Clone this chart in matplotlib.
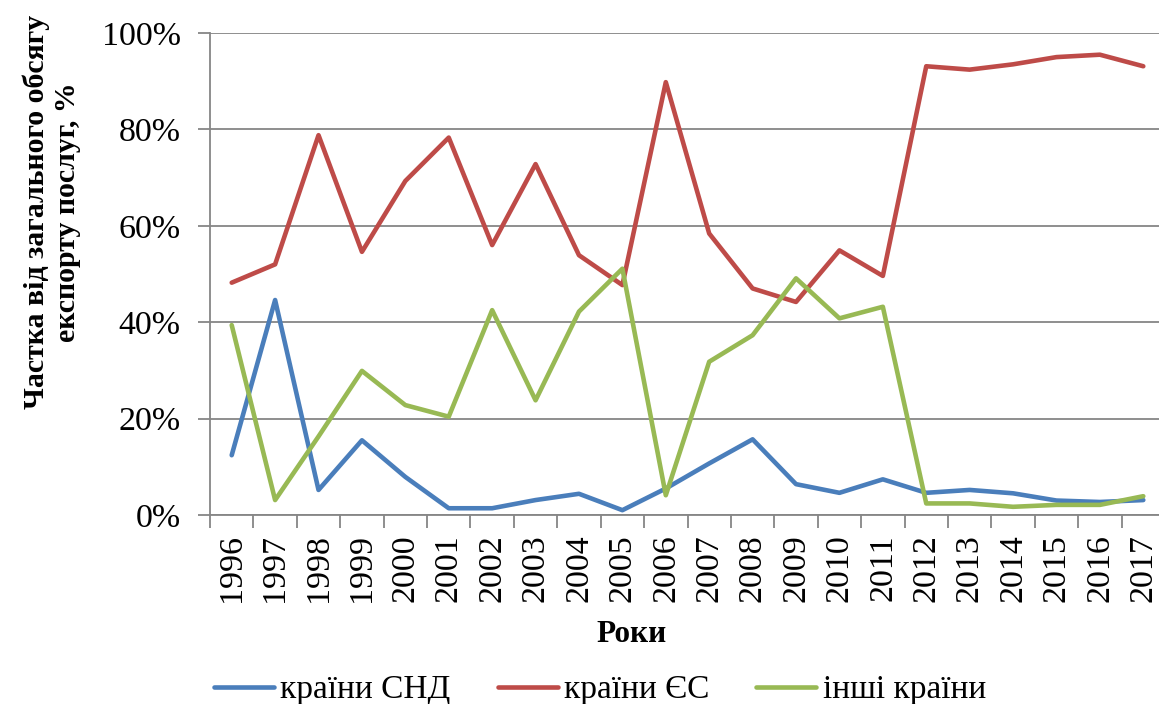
import matplotlib
matplotlib.use('Agg')
import matplotlib.pyplot as plt
from matplotlib.ticker import PercentFormatter

# Data (share of total services export, %)
years = [str(y) for y in range(1996, 2018)]
cis = [12.4, 44.6, 5.2, 15.5, 7.9, 1.4, 1.4, 3.1, 4.4, 1.0, 5.5,
       10.7, 15.7, 6.4, 4.6, 7.4, 4.6, 5.2, 4.5, 3.0, 2.7, 3.1]
eu = [48.2, 52.0, 78.8, 54.6, 69.3, 78.3, 56.0, 72.8, 53.9, 47.7, 89.8,
      58.4, 47.0, 44.2, 54.9, 49.6, 93.1, 92.4, 93.5, 95.0, 95.5, 93.1]
other = [39.4, 3.1, 16.3, 29.9, 22.8, 20.4, 42.5, 23.8, 42.2, 51.1, 4.1,
         31.8, 37.3, 49.1, 40.8, 43.2, 2.4, 2.4, 1.7, 2.1, 2.1, 3.9]

series_labels = ['країни СНД', 'країни ЄС', 'інші країни']
series_colors = ['#4A7EBB', '#BE4B48', '#98B954']
GRID_COLOR = '#868686'

plt.rcParams['font.family'] = ['Liberation Serif', 'DejaVu Serif']

fig = plt.figure(figsize=(11.59, 7.04), dpi=100)
ax = fig.add_axes([210 / 1159, 1 - 515 / 704, 955 / 1159, 482 / 704])

x = list(range(len(years)))
for values, label, color in zip([cis, eu, other], series_labels, series_colors):
    ax.plot(x, values, color=color, lw=3.3, label=label, solid_capstyle='round')

ax.set_xlim(-0.5, len(years) - 0.5)
ax.set_ylim(0, 100)
ax.set_yticks(range(0, 101, 20))
ax.yaxis.set_major_formatter(PercentFormatter(decimals=0))
# boundary ticks between categories, labels centred on the categories
ax.set_xticks([i - 0.5 for i in range(len(years) + 1)], minor=False)
ax.set_xticklabels([])
ax.set_xticks(x, minor=True)
ax.set_xticklabels(years, minor=True, rotation=90, fontsize=24.5)
ax.tick_params(axis='x', which='major', length=9, width=1.3, color=GRID_COLOR, direction='out')
ax.tick_params(axis='x', which='minor', length=0, pad=14)
ax.tick_params(axis='y', length=9, width=1.3, color=GRID_COLOR, labelsize=24.5, pad=12)

ax.grid(axis='y', color=GRID_COLOR, lw=1.3)
ax.set_axisbelow(True)
for side in ['top', 'right']:
    ax.spines[side].set_visible(False)
for side in ['left', 'bottom']:
    ax.spines[side].set_color(GRID_COLOR)
    ax.spines[side].set_linewidth(1.3)

fig.text(52 / 1159, 1 - 212 / 704, 'Частка від загального обсягу\nекспорту послуг, %',
         rotation=90, ha='center', va='center', fontsize=21.5, fontweight='bold',
         linespacing=1.2)
fig.text(632 / 1159, 1 - 635 / 704, 'Роки', ha='center', va='center',
         fontsize=22.5, fontweight='bold')

fig.legend(loc='center', bbox_to_anchor=(600 / 1159, 1 - 690 / 704), ncol=3,
           frameon=False, fontsize=24, handlelength=1.8, handletextpad=0.2,
           columnspacing=1.4)

fig.savefig('out.png', dpi=100)
